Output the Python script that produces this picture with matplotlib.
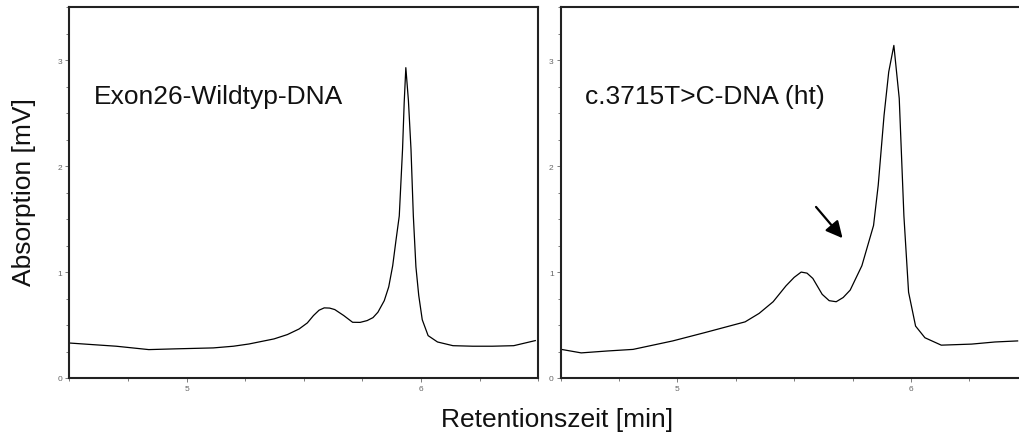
import matplotlib
matplotlib.use("Agg")
import matplotlib.pyplot as plt
from matplotlib.ticker import MultipleLocator

plt.rcParams['font.family'] = ['Liberation Sans', 'DejaVu Sans']

# retention time [min] and absorption [mV]
wt_time = [4.495, 4.60, 4.70, 4.839, 4.95, 5.114, 5.20, 5.266, 5.373, 5.43, 5.48, 5.515, 5.541,
           5.565, 5.587, 5.61, 5.632, 5.67, 5.708, 5.74, 5.77, 5.795, 5.816, 5.843, 5.862, 5.879, 5.893,
           5.907, 5.921, 5.928, 5.935, 5.946, 5.957, 5.967, 5.978, 5.99, 6.005, 6.03,
           6.07, 6.136, 6.22, 6.304, 6.395, 6.487]
wt_abs = [0.331, 0.315, 0.300, 0.268, 0.275, 0.284, 0.300, 0.321, 0.369, 0.41, 0.463, 0.52, 0.589,
          0.64, 0.662, 0.66, 0.646, 0.59, 0.526, 0.525, 0.542, 0.57, 0.621, 0.73, 0.86, 1.06, 1.30,
          1.53, 2.16, 2.60, 2.93, 2.62, 2.16, 1.53, 1.05, 0.78, 0.55, 0.40,
          0.34, 0.305, 0.30, 0.30, 0.305, 0.353]

mut_time = [4.503, 4.588, 4.70, 4.81, 4.98, 5.12, 5.29, 5.35, 5.41, 5.465, 5.50, 5.53, 5.555, 5.58,
            5.62, 5.65, 5.68, 5.71, 5.74, 5.79, 5.84, 5.86, 5.885, 5.905, 5.927,
            5.95, 5.97, 5.99, 6.02, 6.06, 6.13, 6.26, 6.36, 6.457]
mut_abs = [0.27, 0.237, 0.255, 0.27, 0.35, 0.43, 0.53, 0.61, 0.72, 0.87, 0.95, 1.00, 0.99, 0.94,
           0.79, 0.73, 0.72, 0.76, 0.83, 1.06, 1.44, 1.82, 2.48, 2.89, 3.14,
           2.64, 1.53, 0.81, 0.49, 0.38, 0.31, 0.32, 0.34, 0.35]

titles = ["Exon26-Wildtyp-DNA", "c.3715T>C-DNA (ht)"]

fig = plt.figure(figsize=(10.19, 4.39), dpi=100)
ax1 = fig.add_axes([0.068, 0.1367, 0.4603, 0.8444])
ax2 = fig.add_axes([0.5502, 0.1367, 0.4583, 0.8444])  # right edge runs off the image

for ax, t, a, title in [(ax1, wt_time, wt_abs, titles[0]), (ax2, mut_time, mut_abs, titles[1])]:
	ax.plot(t, a, color="black", lw=0.9)
	ax.set_xlim(4.5, 6.5)
	ax.set_ylim(0, 3.5)
	ax.set_xticks([5, 6])
	ax.set_yticks([0, 1, 2, 3])
	ax.xaxis.set_minor_locator(MultipleLocator(0.25))
	ax.yaxis.set_minor_locator(MultipleLocator(0.25))
	ax.tick_params(which="both", direction="out", colors="#666666", labelsize=6, width=0.6)
	ax.tick_params(which="major", length=3, pad=2)
	ax.tick_params(which="minor", length=2)
	for s in ax.spines.values():
		s.set_linewidth(1.5)
		s.set_color("#222222")
	ax.text(0.052, 0.76, title, transform=ax.transAxes, fontsize=19, va="center", ha="left", color="#111111")

ax2.annotate("", xy=(5.715, 1.30), xytext=(5.586, 1.635),
             arrowprops=dict(arrowstyle="-|>,head_length=1.0,head_width=0.5", color="black", lw=1.6))

fig.text(0.024, 0.563, "Absorption [mV]", rotation=90, fontsize=19, ha="center", va="center", color="#111111")
fig.text(0.547, 0.044, "Retentionszeit [min]", fontsize=19, ha="center", va="center", color="#111111")

fig.savefig("out.png", dpi=100)
